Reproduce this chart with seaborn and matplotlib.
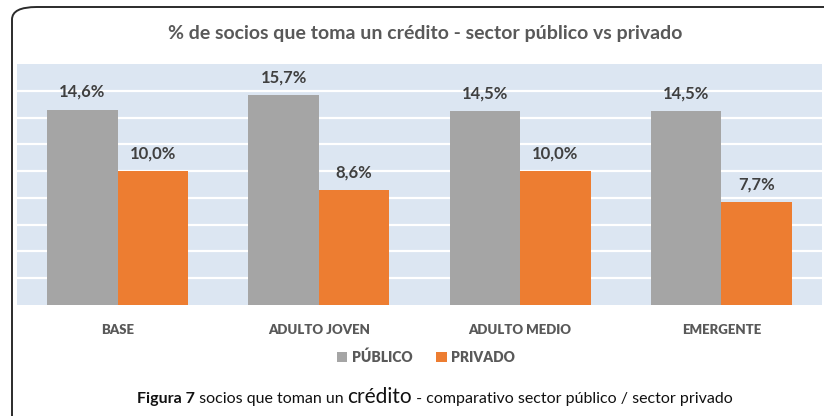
import matplotlib
matplotlib.use("Agg")
import matplotlib.pyplot as plt
from matplotlib.patches import FancyBboxPatch, Patch
import seaborn as sns
import pandas as pd

categories = ["BASE", "ADULTO JOVEN", "ADULTO MEDIO", "EMERGENTE"]
publico = [14.6, 15.7, 14.5, 14.5]
privado = [10.0, 8.6, 10.0, 7.7]
series_names = ["PÚBLICO", "PRIVADO"]
colors = ["#A5A5A5", "#ED7D31"]

title = "% de socios que toma un crédito - sector público vs privado"

df = pd.DataFrame({
    "categoria": categories * 2,
    "valor": publico + privado,
    "sector": [series_names[0]] * len(categories) + [series_names[1]] * len(categories),
})

sns.set_theme(style="white")
plt.rcParams["font.family"] = ["Lato", "DejaVu Sans"]

W, H = 824, 416
fig = plt.figure(figsize=(W / 100, H / 100), dpi=100)
fig.patch.set_facecolor("white")

# rounded frame around the whole figure
frame = FancyBboxPatch((12 / W, -20 / H), 840 / W, 429 / H,
                       boxstyle="round,pad=0,rounding_size=0.03",
                       transform=fig.transFigure, facecolor="none",
                       edgecolor="#2b2b2b", linewidth=1.4, zorder=0)
fig.patches.append(frame)

left, right, top, bottom = 17, 822, 64, 305
ax = fig.add_axes([left / W, (H - bottom) / H, (right - left) / W, (bottom - top) / H])
ax.set_facecolor("#DCE6F2")

sns.barplot(data=df, x="categoria", y="valor", hue="sector", palette=colors,
            width=0.7, saturation=1, ax=ax, legend=False, zorder=3,
            linewidth=0, edgecolor="none")

ax.set_ylim(0, 18)
ax.set_yticks(range(2, 18, 2))
ax.yaxis.grid(True, color="white", linewidth=1.6, zorder=0)
ax.set_axisbelow(True)
ax.tick_params(axis="y", left=False, labelleft=False, length=0)
ax.tick_params(axis="x", bottom=False, length=0, pad=14)
ax.set_xticks(range(len(categories)))
ax.set_xticklabels(categories, fontweight="heavy", fontsize=9.5, color="#595959")
ax.set_xlabel("")
ax.set_ylabel("")
for s in ax.spines.values():
    s.set_visible(False)

for cont in ax.containers:
    labels = [f"{b.get_height():.1f}%".replace(".", ",") for b in cont]
    ax.bar_label(cont, labels=labels, padding=7, fontsize=12, fontweight="bold",
                 color="#404040")

# title
fig.text(425 / W, 1 - 33 / H, title, ha="center", va="center", fontsize=14,
         fontweight="bold", color="#595959")

# legend
handles = [Patch(facecolor=c, edgecolor="none") for c in colors]
leg = fig.legend(handles, series_names, loc="center", bbox_to_anchor=(426 / W, 1 - 357 / H),
                 ncol=2, frameon=False, handlelength=0.75, handleheight=0.75,
                 handletextpad=0.35, columnspacing=1.7,
                 prop={"weight": "heavy", "size": 10})
for t in leg.get_texts():
    t.set_color("#595959")

# caption with a mixed-size run of text
parts = [("Figura 7", "bold", 11.5), (" socios que toman un ", "normal", 11.5),
         ("crédito", "normal", 15),
         (" - comparativo sector público / sector privado", "normal", 11.5)]
fig.canvas.draw()
renderer = fig.canvas.get_renderer()
texts = []
for s, w, fs in parts:
    t = fig.text(0, 1 - 403 / H, s, fontweight=w, fontsize=fs, color="#111111",
                 ha="left", va="baseline")
    texts.append(t)
widths = [t.get_window_extent(renderer).width for t in texts]
total = sum(widths)
x0 = 435 - total / 2
for t, wd in zip(texts, widths):
    t.set_x(x0 / W)
    x0 += wd

fig.savefig("out.png", dpi=100, facecolor="white")
